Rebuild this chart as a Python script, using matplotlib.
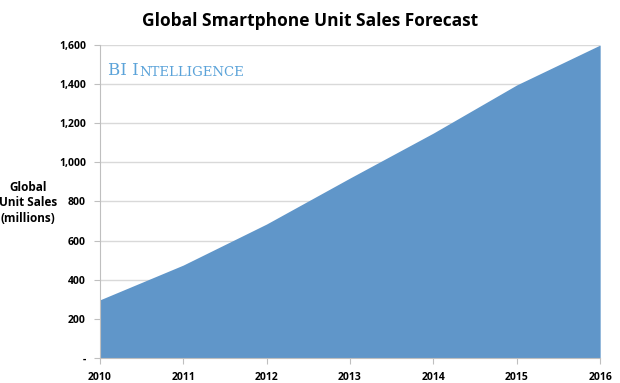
import matplotlib
matplotlib.use("Agg")
import matplotlib.pyplot as plt
from matplotlib.ticker import FuncFormatter

# Global smartphone unit sales (millions)
years = [2010, 2011, 2012, 2013, 2014, 2015, 2016]
sales = [297, 475, 685, 920, 1150, 1396, 1600]

plt.rcParams['font.family'] = ['Open Sans', 'DejaVu Sans']

fig = plt.figure(figsize=(6.2, 3.83), dpi=100)
ax = fig.add_axes([0.161, 0.0653, 0.807, 0.8172])

ax.fill_between(years, sales, 0, color="#6096c9", linewidth=0, zorder=2)

ax.set_xlim(2010, 2016)
ax.set_ylim(0, 1600)
ax.set_xticks(years)
ax.set_yticks(range(0, 1601, 200))
ax.yaxis.set_major_formatter(FuncFormatter(lambda v, p: "-" if v == 0 else f"{int(v):,}"))
ax.grid(axis="y", color="#d9d9d9", linewidth=1, zorder=0)

for s in ["top", "right"]:
    ax.spines[s].set_visible(False)
for s in ["left", "bottom"]:
    ax.spines[s].set_color("#bfbfbf")
ax.tick_params(axis="both", colors="#bfbfbf", length=4, labelcolor="black", labelsize=7.5, pad=6)
for lbl in ax.get_xticklabels() + ax.get_yticklabels():
    lbl.set_fontweight("bold")

fig.text(0.5, 0.945, "Global Smartphone Unit Sales Forecast", ha="center", va="center",
         fontsize=12.5, fontweight="bold")
fig.text(0.045, 0.47, "Global\nUnit Sales\n(millions)", ha="center", va="center",
         fontsize=8.5, fontweight="bold", linespacing=1.25)

# small caps watermark
t1 = ax.text(0.016, 0.905, "BI I", transform=ax.transAxes, fontsize=12,
             family="DejaVu Serif", color="#5ba3d9", va="baseline")
ax.annotate("NTELLIGENCE", xy=(1, 0), xycoords=t1, xytext=(0.5, 0), textcoords="offset points",
            fontsize=9.5, family="DejaVu Serif", color="#5ba3d9", va="bottom")

fig.savefig("out.png", dpi=100)
